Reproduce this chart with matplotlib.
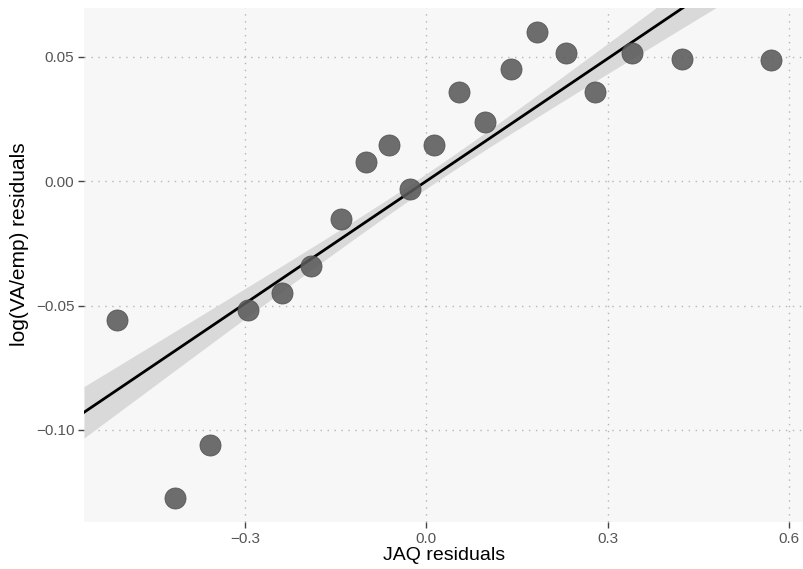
import numpy as np
import matplotlib.pyplot as plt

plt.rcParams['font.family'] = ['Liberation Sans', 'DejaVu Sans']

# residuals
jaq_resid = [-0.512, -0.416, -0.358, -0.295, -0.239, -0.191, -0.141, -0.100, -0.062, -0.026,
             0.013, 0.055, 0.098, 0.141, 0.184, 0.231, 0.280, 0.340, 0.424, 0.571]
va_resid = [-0.0556, -0.1273, -0.106, -0.0516, -0.045, -0.034, -0.0153, 0.0076, 0.0145, -0.0032,
            0.0145, 0.036, 0.024, 0.045, 0.060, 0.0516, 0.036, 0.0516, 0.049, 0.0486]

# confidence band half-width (fit was on the full sample)
band_center = 0.0030   # half-width near x = 0
band_spread = 0.0175   # growth with distance from the centre

x = np.array(jaq_resid)
y = np.array(va_resid)

slope, icpt = np.polyfit(x, y, 1)
xs = np.linspace(-0.566, 0.625, 200)
ys = icpt + slope * xs
half = np.sqrt(band_center ** 2 + (band_spread * (xs - x.mean())) ** 2)

fig = plt.figure(figsize=(8.04, 5.69), dpi=100)
ax = fig.add_axes([0.1045, 0.0826, 0.8955, 0.9034])
ax.set_facecolor('#f7f7f7')

ax.fill_between(xs, ys - half, ys + half, color='#d9d9d9', lw=0, zorder=2)
ax.plot(xs, ys, color='black', lw=2.0, zorder=3)
ax.scatter(x, y, s=230, color='#5a5a5a', alpha=0.88, edgecolors='#4f4f4f', linewidths=0.6, zorder=4)

ax.set_xlim(-0.566, 0.625)
ax.set_ylim(-0.137, 0.0697)
ax.set_xticks([-0.3, 0.0, 0.3, 0.6])
ax.set_xticklabels(['\u22120.3', '0.0', '0.3', '0.6'])
ax.set_yticks([-0.10, -0.05, 0.00, 0.05])
ax.set_yticklabels(['\u22120.10', '\u22120.05', '0.00', '0.05'])

ax.grid(True, color='#b5b5b5', linestyle=(0, (1, 4)), lw=1.0, zorder=1)
ax.set_axisbelow(True)
for sp in ax.spines.values():
    sp.set_visible(False)
ax.tick_params(axis='both', length=4, width=1.0, color='#444444', labelcolor='#555555',
               labelsize=11, pad=3)

ax.set_xlabel('JAQ residuals', fontsize=14, color='black', labelpad=1)
ax.set_ylabel('log(VA/emp) residuals', fontsize=15, color='black')
ax.yaxis.set_label_coords(-0.076, 0.54)

fig.savefig('out.png', dpi=100)
